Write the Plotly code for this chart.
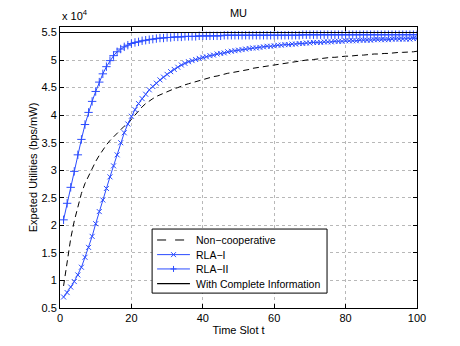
import plotly.graph_objects as go

# time slots
t = list(range(1, 101))
t_full = [0, 100]

# values in units of 1e4 bps/mW (as shown on the axis)
non_coop = [
    0.90, 1.37, 1.76, 2.08, 2.33, 2.58, 2.76, 2.90, 3.04, 3.16,
    3.27, 3.37, 3.46, 3.54, 3.61, 3.68, 3.74, 3.80, 3.86, 3.92,
    4.00, 4.08, 4.15, 4.21, 4.26, 4.30, 4.34, 4.37, 4.40, 4.43,
    4.45, 4.48, 4.50, 4.53, 4.55, 4.57, 4.59, 4.61, 4.63, 4.65,
    4.67, 4.68, 4.70, 4.71, 4.73, 4.74, 4.76, 4.77, 4.78, 4.79,
    4.80, 4.82, 4.83, 4.85, 4.86, 4.87, 4.88, 4.90, 4.91, 4.92,
    4.93, 4.94, 4.95, 4.96, 4.97, 4.97, 4.98, 4.99, 5.00, 5.01,
    5.01, 5.02, 5.03, 5.03, 5.04, 5.05, 5.05, 5.06, 5.06, 5.07,
    5.07, 5.08, 5.08, 5.09, 5.09, 5.10, 5.10, 5.11, 5.11, 5.12,
    5.12, 5.12, 5.13, 5.13, 5.14, 5.14, 5.14, 5.15, 5.15, 5.16,
]

rla_1 = [
    0.70, 0.78, 0.88, 0.98, 1.10, 1.24, 1.42, 1.60, 1.80, 2.03,
    2.25, 2.46, 2.67, 2.88, 3.08, 3.28, 3.50, 3.68, 3.84, 3.98,
    4.10, 4.21, 4.30, 4.38, 4.46, 4.52, 4.58, 4.64, 4.69, 4.74,
    4.79, 4.83, 4.87, 4.91, 4.94, 4.97, 4.99, 5.01, 5.03, 5.05,
    5.06, 5.08, 5.09, 5.11, 5.12, 5.13, 5.15, 5.16, 5.17, 5.18,
    5.19, 5.20, 5.21, 5.22, 5.22, 5.23, 5.24, 5.25, 5.25, 5.26,
    5.27, 5.27, 5.28, 5.28, 5.29, 5.29, 5.30, 5.30, 5.31, 5.31,
    5.32, 5.32, 5.32, 5.33, 5.33, 5.33, 5.34, 5.34, 5.34, 5.35,
    5.35, 5.35, 5.35, 5.36, 5.36, 5.36, 5.36, 5.37, 5.37, 5.37,
    5.37, 5.37, 5.38, 5.38, 5.38, 5.38, 5.38, 5.38, 5.39, 5.39,
]

rla_2 = [
    2.10, 2.40, 2.69, 2.98, 3.28, 3.56, 3.83, 4.05, 4.25, 4.43,
    4.60, 4.75, 4.88, 4.99, 5.08, 5.15, 5.20, 5.24, 5.27, 5.30,
    5.32, 5.33, 5.35, 5.36, 5.37, 5.38, 5.39, 5.40, 5.40, 5.41,
    5.41, 5.42, 5.42, 5.42, 5.43, 5.43, 5.43, 5.43, 5.44, 5.44,
    5.44, 5.44, 5.44, 5.44, 5.44, 5.45, 5.45, 5.45, 5.45, 5.45,
    5.45, 5.45, 5.45, 5.45, 5.45, 5.45, 5.45, 5.45, 5.45, 5.45,
    5.45, 5.45, 5.45, 5.45, 5.45, 5.45, 5.45, 5.46, 5.46, 5.46,
    5.46, 5.46, 5.46, 5.46, 5.46, 5.46, 5.46, 5.46, 5.46, 5.46,
    5.46, 5.46, 5.46, 5.46, 5.46, 5.46, 5.46, 5.46, 5.46, 5.46,
    5.46, 5.46, 5.46, 5.46, 5.46, 5.46, 5.46, 5.46, 5.46, 5.46,
]

complete_info = [5.5, 5.5]

y_ticks = [0.5, 1, 1.5, 2, 2.5, 3, 3.5, 4, 4.5, 5, 5.5]
y_labels = ['0.5', '1', '1.5', '2', '2.5', '3', '3.5', '4', '4.5', '5', '5.5']
x_ticks = [0, 20, 40, 60, 80, 100]

legend_labels = ['Non\u2212cooperative', 'RLA\u2212I', 'RLA\u2212II',
                 'With Complete Information']

BLUE = '#2b4cff'
FONT = 'Liberation Sans, Arial, sans-serif'

fig = go.Figure()

fig.add_trace(go.Scatter(
    x=t, y=non_coop, mode='lines', showlegend=False,
    line=dict(color='black', width=1, dash='6px,4px')
))
fig.add_trace(go.Scatter(
    x=t, y=rla_1, mode='lines+markers', showlegend=False,
    line=dict(color=BLUE, width=1),
    marker=dict(symbol='x-thin', size=5, line=dict(color=BLUE, width=1))
))
fig.add_trace(go.Scatter(
    x=t, y=rla_2, mode='lines+markers', showlegend=False,
    line=dict(color=BLUE, width=1),
    marker=dict(symbol='cross-thin', size=6, line=dict(color=BLUE, width=1))
))
fig.add_trace(go.Scatter(
    x=t_full, y=complete_info, mode='lines', showlegend=False,
    line=dict(color='black', width=1.2)
))

axis_style = dict(
    showline=True, linecolor='black', linewidth=1, mirror='ticks',
    ticks='inside', ticklen=4, tickcolor='black',
    showgrid=True, gridcolor='#b8b8b8', griddash='dot', gridwidth=1,
    zeroline=False, automargin=True,
    tickfont=dict(size=11, color='black', family=FONT),
)

fig.update_xaxes(range=[0, 100], tickvals=x_ticks,
                 title=dict(text='Time Slot t', standoff=3,
                            font=dict(size=11, color='black', family=FONT)),
                 **axis_style)
fig.update_yaxes(range=[0.5, 5.6], tickvals=y_ticks, ticktext=y_labels,
                 title=dict(text='Expeted Utilities (bps/mW)', standoff=1,
                            font=dict(size=11, color='black', family=FONT)),
                 **axis_style)

fig.add_annotation(text='x 10<sup>4</sup>', xref='paper', yref='paper',
                   x=0, y=1.0, xanchor='left', yanchor='bottom', yshift=3,
                   showarrow=False, font=dict(size=11, color='black', family=FONT))

# MATLAB-style legend box (drawn by hand to get the compact row spacing)
box_x0, box_x1, box_y0, box_y1 = 0.258, 0.748, 0.053, 0.281
row_y = [0.242, 0.190, 0.139, 0.087]
line_x0, line_x1, mark_x, text_x = 0.272, 0.364, 0.318, 0.376
sample_style = [
    dict(color='black', width=1, dash='dash'),
    dict(color=BLUE, width=1),
    dict(color=BLUE, width=1),
    dict(color='black', width=1.2),
]
marker_paths = [None, 'M-2.5,-2.5L2.5,2.5M-2.5,2.5L2.5,-2.5',
                'M-3,0L3,0M0,-3L0,3', None]

fig.add_shape(type='rect', xref='paper', yref='paper',
              x0=box_x0, x1=box_x1, y0=box_y0, y1=box_y1,
              line=dict(color='black', width=1), fillcolor='white', layer='above')
for label, yy, style, path in zip(legend_labels, row_y, sample_style, marker_paths):
    fig.add_shape(type='line', xref='paper', yref='paper',
                  x0=line_x0, x1=line_x1, y0=yy, y1=yy, line=style, layer='above')
    if path:
        fig.add_shape(type='path', xref='paper', yref='paper',
                      xsizemode='pixel', ysizemode='pixel',
                      xanchor=mark_x, yanchor=yy, path=path,
                      line=dict(color=BLUE, width=1), layer='above')
    fig.add_annotation(text=label, xref='paper', yref='paper', x=text_x, y=yy,
                       xanchor='left', yanchor='middle', showarrow=False,
                       font=dict(size=10.5, color='black', family=FONT))

# page body adds an 8px offset, so the figure is 8px smaller than the window
fig.update_layout(
    width=452, height=338,
    margin=dict(l=52, r=43, t=19, b=38),
    paper_bgcolor='white', plot_bgcolor='white',
    title=dict(text='MU', x=0.5, xref='paper', y=0.985, yanchor='middle',
               font=dict(size=11, color='black', family=FONT)),
    font=dict(family=FONT, size=11, color='black'),
    showlegend=False,
)

fig.write_html('out.html')
